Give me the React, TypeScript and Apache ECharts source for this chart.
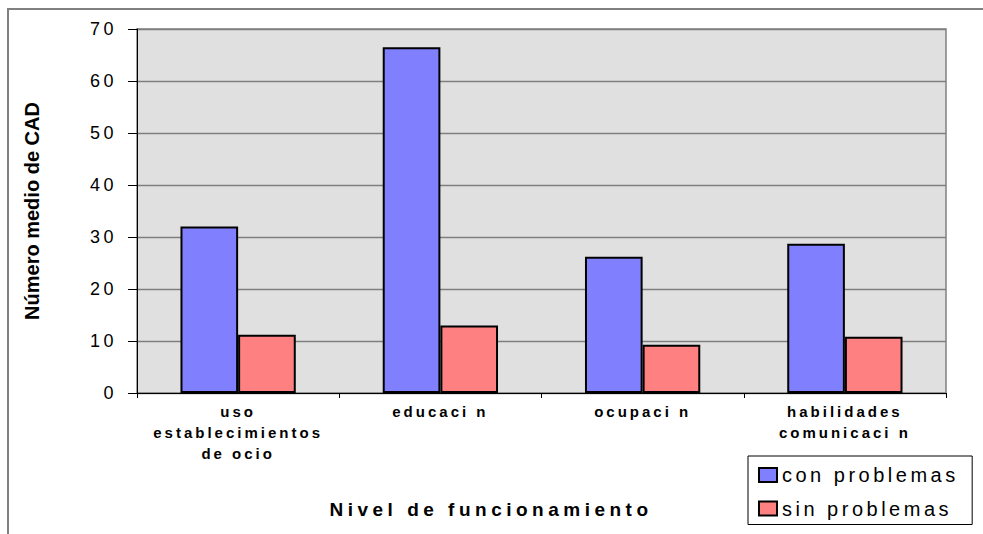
import React, { useEffect, useRef } from "react";
import * as echarts from "echarts";

const categories = ["uso\nestablecimientos\nde ocio", "educaci n", "ocupaci n", "habilidades\ncomunicaci n"];
const seriesNames = ["con problemas", "sin problemas"];
const conProblemas = [32.0, 66.5, 26.2, 28.7];
const sinProblemas = [11.2, 13.0, 9.3, 10.8];
const yTitle = "Número medio de CAD";
const xTitle = "Nivel de funcionamiento";

const FONT = "'Liberation Sans', Arial, sans-serif";

function applySpacing(root: HTMLElement) {
  root.querySelectorAll("text").forEach((t) => {
    const s = (t.textContent || "").trim();
    let ls = 3;
    if (/^\d+$/.test(s)) ls = 3.5;
    else if (seriesNames.includes(s)) ls = 3.5;
    else if (s === xTitle) ls = 4.5;
    else if (s === yTitle) ls = 0;
    t.setAttribute("letter-spacing", String(ls));
  });
}

export default function App() {
  const ref = useRef<HTMLDivElement>(null);
  useEffect(() => {
    const el = ref.current!;
    const chart = echarts.init(el, undefined, { renderer: "svg" });
    chart.setOption({
      animation: false,
      backgroundColor: "#ffffff",
      grid: {
        left: 137,
        right: 37,
        top: 29,
        bottom: 141,
        show: true,
        backgroundColor: "#e0e0e0",
        borderColor: "#808080",
        borderWidth: 1.5,
        outerBoundsMode: "none",
      },
      legend: {
        orient: "vertical",
        left: 748,
        top: 456,
        padding: [9, 59, 6, 10],
        itemWidth: 18,
        itemHeight: 14,
        itemGap: 13.5,
        borderColor: "#000",
        borderWidth: 1,
        selectedMode: false,
        icon: "rect",
        textStyle: { fontFamily: FONT, fontSize: 20, color: "#000" },
        data: seriesNames,
      },
      xAxis: {
        type: "category",
        data: categories,
        axisLine: { lineStyle: { color: "#000", width: 1 } },
        axisTick: { show: true, length: 5, lineStyle: { color: "#000" } },
        axisLabel: {
          interval: 0,
          margin: 8,
          fontFamily: FONT,
          fontSize: 15,
          fontWeight: "bold",
          color: "#000",
          lineHeight: 21,
        },
        splitLine: { show: false },
      },
      yAxis: {
        type: "value",
        min: 0,
        max: 70,
        interval: 10,
        name: yTitle,
        nameLocation: "middle",
        nameGap: 95,
        nameTextStyle: { fontFamily: FONT, fontSize: 20, fontWeight: "bold", color: "#000" },
        axisLine: { show: true, lineStyle: { color: "#000", width: 1 } },
        axisTick: { show: true, length: 9, lineStyle: { color: "#000" } },
        axisLabel: { margin: 20, fontFamily: FONT, fontSize: 18, color: "#000" },
        splitLine: { show: true, lineStyle: { color: "#7f7f7f", width: 1.3 } },
      },
      graphic: [
        {
          type: "rect",
          silent: true,
          shape: { x: 8, y: 9, width: 1000, height: 600 },
          style: { fill: "none", stroke: "#808080", lineWidth: 2 },
        },
        {
          type: "text",
          silent: true,
          x: 491,
          y: 509,
          style: {
            text: xTitle,
            textAlign: "center",
            textVerticalAlign: "middle",
            fontFamily: FONT,
            fontSize: 19,
            fontWeight: "bold",
            fill: "#000",
          },
        },
      ],
      series: [
        {
          name: seriesNames[0],
          type: "bar",
          data: conProblemas,
          barGap: "0%",
          barCategoryGap: "43%",
          itemStyle: { color: "#8080ff", borderColor: "#000", borderWidth: 2 },
          emphasis: { disabled: true },
        },
        {
          name: seriesNames[1],
          type: "bar",
          data: sinProblemas,
          barGap: "0%",
          barCategoryGap: "43%",
          itemStyle: { color: "#ff8080", borderColor: "#000", borderWidth: 2 },
          emphasis: { disabled: true },
        },
      ],
    });
    applySpacing(el);
    const onFinished = () => applySpacing(el);
    chart.on("finished", onFinished);
    const raf = requestAnimationFrame(() => applySpacing(el));
    const to = setTimeout(() => applySpacing(el), 50);
    return () => {
      cancelAnimationFrame(raf);
      clearTimeout(to);
      chart.dispose();
    };
  }, []);
  return (
    <div
      ref={ref}
      style={{ position: "fixed", left: 0, top: 0, width: 983, height: 534 }}
    />
  );
}
